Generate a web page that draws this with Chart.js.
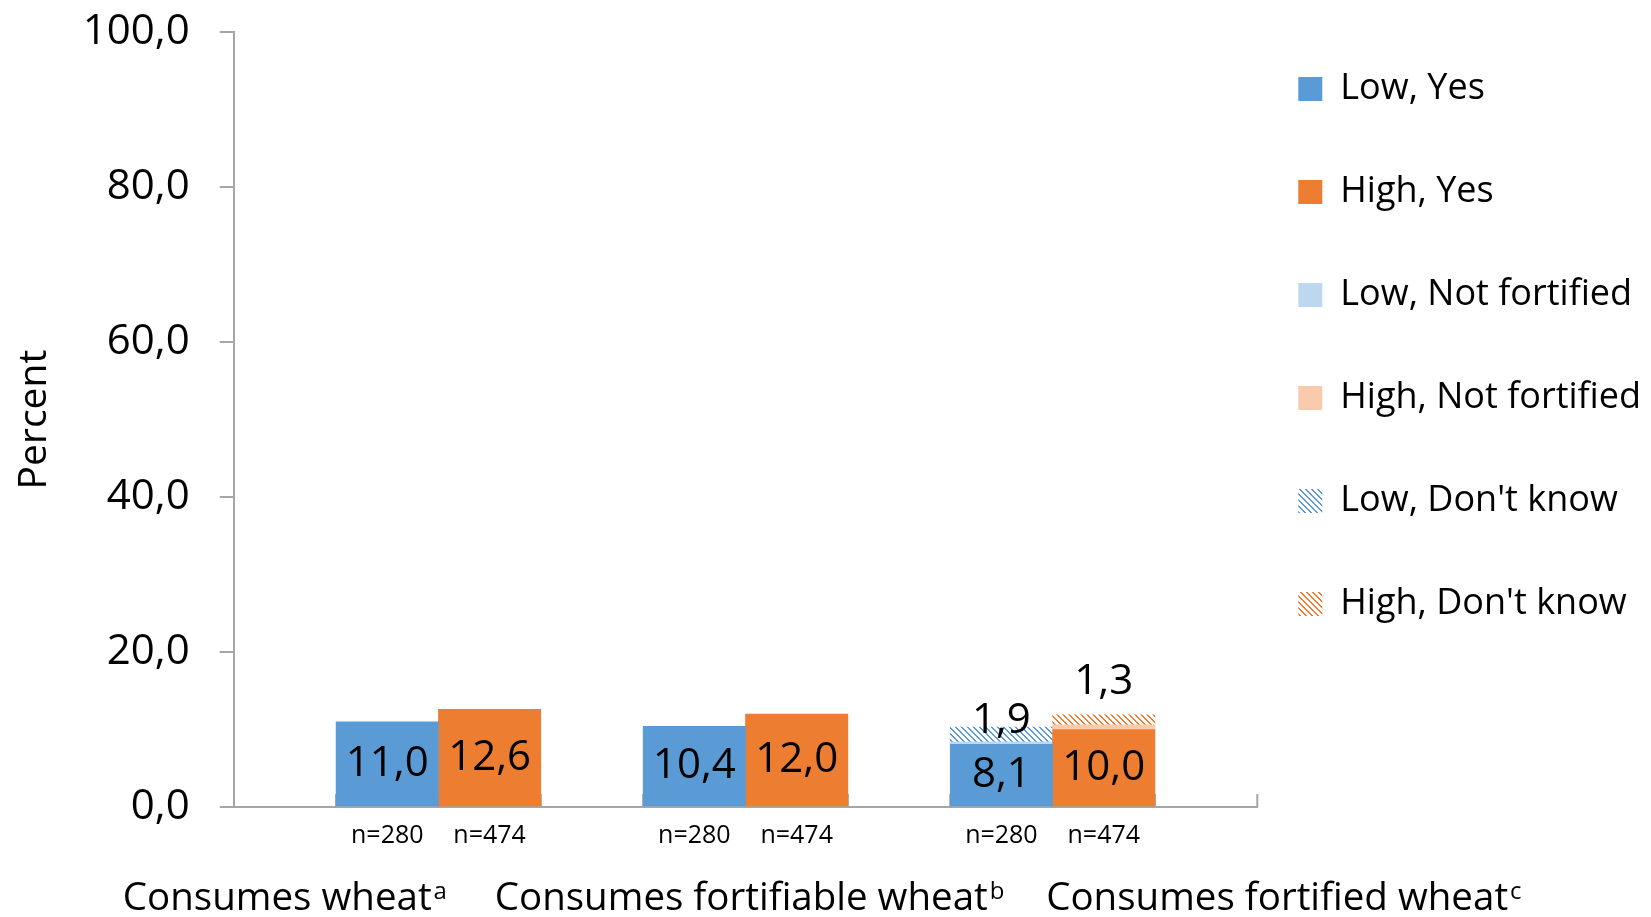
<!DOCTYPE html>
<html>
<head>
<meta charset="utf-8">
<script src="https://cdn.jsdelivr.net/npm/chart.js@4.4.0/dist/chart.umd.min.js"></script>
<style>
  html, body { margin: 0; padding: 0; background: #ffffff; }
  canvas { display: block; }
</style>
</head>
<body>
<canvas id="chart" width="1651" height="917"></canvas>
<script>
// ---------------- data ----------------
const groups = ['Consumes wheat', 'Consumes fortifiable wheat', 'Consumes fortified wheat'];
const groupNotes = ['a', 'b', 'c'];
const nLabelLow = 'n=280';
const nLabelHigh = 'n=474';
const lowYes = [11.0, 10.4, 8.1];
const highYes = [12.6, 12.0, 10.0];
const lowNotFortified = [null, null, 0.3];
const highNotFortified = [null, null, 0.6];
const lowDontKnow = [null, null, 1.9];
const highDontKnow = [null, null, 1.3];
const yTickValues = [0, 20, 40, 60, 80, 100];

// ---------------- style / layout ----------------
const FONT = "'Open Sans', 'Noto Sans', sans-serif";
const BLUE = '#5B9BD5', ORANGE = '#ED7D31', LIGHT_BLUE = '#BDD7EE', LIGHT_ORANGE = '#F8CBAD';
const AXIS_GREY = '#A6A6A6';
const groupLabelAt = [0, 4.54, 9.76];      // slot positions of the group captions
const groupLabelBelow = 102.6;             // caption baseline below the plot
const dontKnowLift = { low: 6, high: 33 }; // label lift above the hatched segments

// slots: '', low, high per group, plus a trailing empty slot
const slotLabels = [];
groups.forEach(() => { slotLabels.push('', nLabelLow, nLabelHigh); });
slotLabels.push('');
function toSlots(values, side) {
  const out = new Array(slotLabels.length).fill(null);
  values.forEach((v, g) => { out[g * 3 + (side === 'low' ? 1 : 2)] = v; });
  return out;
}

function hatch(color) {
  const c = document.createElement('canvas');
  c.width = 6; c.height = 6;
  const x = c.getContext('2d');
  x.fillStyle = '#ffffff';
  x.fillRect(0, 0, 6, 6);
  x.fillStyle = color;
  for (let i = 0; i < 6; i++) {
    x.fillRect(i, i, 1, 1);
    x.fillRect((i + 1) % 6, i, 1, 1);
  }
  return x.createPattern(c, 'repeat');
}

const fmt = v => v.toFixed(1).replace('.', ',');

const datasets = [
  { label: 'Low, Yes', data: toSlots(lowYes, 'low'), backgroundColor: BLUE, labelMode: 'center' },
  { label: 'High, Yes', data: toSlots(highYes, 'high'), backgroundColor: ORANGE, labelMode: 'center' },
  { label: 'Low, Not fortified', data: toSlots(lowNotFortified, 'low'), backgroundColor: LIGHT_BLUE, labelMode: 'none' },
  { label: 'High, Not fortified', data: toSlots(highNotFortified, 'high'), backgroundColor: LIGHT_ORANGE, labelMode: 'none' },
  { label: "Low, Don't know", data: toSlots(lowDontKnow, 'low'), backgroundColor: hatch(BLUE), labelMode: 'above', lift: dontKnowLift.low },
  { label: "High, Don't know", data: toSlots(highDontKnow, 'high'), backgroundColor: hatch(ORANGE), labelMode: 'above', lift: dontKnowLift.high }
];

// inside tick marks on the category axis (drawn under the bars)
const innerTicks = {
  id: 'innerTicks',
  beforeDatasetsDraw(chart) {
    const { ctx, chartArea } = chart;
    const xs = chart.scales.x;
    ctx.save();
    ctx.strokeStyle = AXIS_GREY;
    ctx.lineWidth = 2;
    for (let i = 1; i <= slotLabels.length; i++) {
      const px = Math.min(xs.getPixelForValue(i - 0.5), chartArea.right);
      ctx.beginPath();
      ctx.moveTo(px, chartArea.bottom);
      ctx.lineTo(px, chartArea.bottom - 13);
      ctx.stroke();
    }
    ctx.restore();
  }
};

// value labels
const valueLabels = {
  id: 'valueLabels',
  afterDatasetsDraw(chart) {
    const { ctx } = chart;
    ctx.save();
    ctx.fillStyle = '#000000';
    ctx.font = `42px ${FONT}`;
    ctx.textAlign = 'center';
    ctx.textBaseline = 'middle';
    chart.data.datasets.forEach((ds, di) => {
      if (ds.labelMode === 'none') return;
      const meta = chart.getDatasetMeta(di);
      meta.data.forEach((el, i) => {
        const v = ds.data[i];
        if (v === null || v === undefined) return;
        const p = el.getProps(['x', 'y', 'base'], true);
        const y = ds.labelMode === 'center' ? (p.y + p.base) / 2 : p.y - ds.lift;
        ctx.fillText(fmt(v), p.x, y);
      });
    });
    ctx.restore();
  }
};

// group captions with superscript notes
const groupCaptions = {
  id: 'groupCaptions',
  afterDraw(chart) {
    const { ctx, chartArea } = chart;
    const xs = chart.scales.x;
    const base = chartArea.bottom + groupLabelBelow;
    ctx.save();
    ctx.fillStyle = '#000000';
    ctx.textBaseline = 'alphabetic';
    ctx.textAlign = 'left';
    groups.forEach((g, i) => {
      ctx.font = `38.5px ${FONT}`;
      const w1 = ctx.measureText(g).width;
      ctx.font = `24px ${FONT}`;
      const w2 = ctx.measureText(groupNotes[i]).width;
      const cx = xs.getPixelForValue(groupLabelAt[i]);
      const left = cx - (w1 + 2 + w2) / 2;
      ctx.font = `38.5px ${FONT}`;
      ctx.fillText(g, left, base);
      ctx.font = `24px ${FONT}`;
      ctx.fillText(groupNotes[i], left + w1 + 2, base - 11);
    });
    ctx.restore();
  }
};

Chart.defaults.font.family = FONT;
Chart.defaults.color = '#000000';

new Chart(document.getElementById('chart'), {
  type: 'bar',
  data: { labels: slotLabels, datasets },
  plugins: [innerTicks, valueLabels, groupCaptions],
  options: {
    responsive: false,
    animation: false,
    layout: { padding: { top: 30, left: 0, right: 0, bottom: 52 } },
    datasets: { bar: { categoryPercentage: 1, barPercentage: 1, borderWidth: 0 } },
    scales: {
      x: {
        stacked: true,
        grid: { display: false, drawTicks: false },
        border: { display: true, color: AXIS_GREY, width: 2 },
        ticks: { font: { size: 25 }, color: '#000000', padding: 14, autoSkip: false, maxRotation: 0 }
      },
      y: {
        stacked: true,
        min: 0,
        max: 100,
        afterBuildTicks: axis => { axis.ticks = yTickValues.map(v => ({ value: v })); },
        ticks: { font: { size: 42, lineHeight: 0.1 }, color: '#000000', padding: 30, callback: v => fmt(v) },
        grid: { display: true, drawOnChartArea: false, drawTicks: true, tickLength: 14, color: AXIS_GREY, lineWidth: 2 },
        border: { display: true, color: AXIS_GREY, width: 2 },
        title: { display: true, text: 'Percent', font: { size: 39 }, color: '#000000', padding: { top: 11, bottom: -5 } }
      }
    },
    plugins: {
      tooltip: { enabled: false },
      legend: {
        position: 'right',
        align: 'start',
        labels: {
          font: { size: 36, lineHeight: '62px' },
          color: '#000000',
          boxWidth: 24,
          boxHeight: 24,
          padding: 41,
          generateLabels: chart => Chart.defaults.plugins.legend.labels.generateLabels(chart)
            .map(l => Object.assign({}, l, { text: [l.text], lineWidth: 0 }))
        }
      }
    }
  }
});
</script>
</body>
</html>
